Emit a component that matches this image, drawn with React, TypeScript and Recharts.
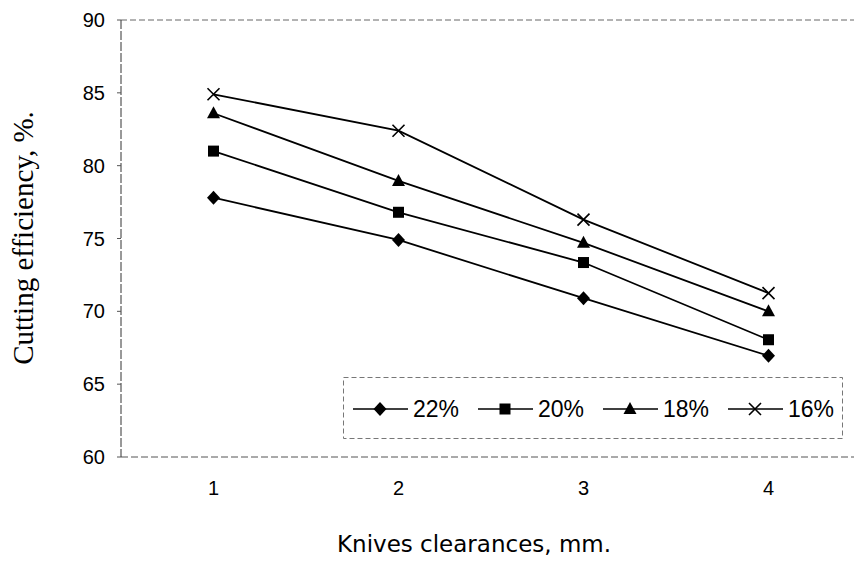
import React from "react";
import {
  Label,
  Line,
  LineChart,
  ReferenceLine,
  XAxis,
  YAxis,
} from "recharts";

const clearances = ["1", "2", "3", "4"];
const eff22 = [77.8, 74.9, 70.9, 66.95];
const eff20 = [81.0, 76.8, 73.35, 68.05];
const eff18 = [83.6, 78.95, 74.7, 70.0];
const eff16 = [84.9, 82.4, 76.3, 71.25];
const yTicks = [60, 65, 70, 75, 80, 85, 90];

type Shape = "diamond" | "square" | "triangle" | "cross";

const seriesList: { key: string; name: string; shape: Shape }[] = [
  { key: "s22", name: "22%", shape: "diamond" },
  { key: "s20", name: "20%", shape: "square" },
  { key: "s18", name: "18%", shape: "triangle" },
  { key: "s16", name: "16%", shape: "cross" },
];

const data = clearances.map((x, i) => ({
  x,
  s22: eff22[i],
  s20: eff20[i],
  s18: eff18[i],
  s16: eff16[i],
}));

const INK = "#000";
const SANS = "'Liberation Sans', Arial, sans-serif";

function Marker({ cx, cy, shape }: { cx: number; cy: number; shape: Shape }) {
  if (shape === "diamond") {
    return <path d={`M${cx},${cy - 7}L${cx + 6.5},${cy}L${cx},${cy + 7}L${cx - 6.5},${cy}Z`} fill={INK} />;
  }
  if (shape === "square") {
    return <rect x={cx - 5.5} y={cy - 5.5} width={11} height={11} fill={INK} />;
  }
  if (shape === "triangle") {
    return <path d={`M${cx},${cy - 7}L${cx + 6.5},${cy + 5}L${cx - 6.5},${cy + 5}Z`} fill={INK} />;
  }
  return (
    <path
      d={`M${cx - 6},${cy - 6}L${cx + 6},${cy + 6}M${cx + 6},${cy - 6}L${cx - 6},${cy + 6}`}
      stroke={INK}
      strokeWidth={1.6}
      fill="none"
    />
  );
}

// legend drawn by hand, laid over the plot like the original
function LegendBox() {
  return (
    <svg width={500} height={62} style={{ display: "block" }}>
      <rect
        x={0.5}
        y={0.5}
        width={499}
        height={61}
        fill="#fff"
        stroke="#777"
        strokeDasharray="5 3"
      />
      {seriesList.map((s, i) => {
        const x0 = 10 + i * 125;
        return (
          <g key={s.key}>
            <line x1={x0} y1={32} x2={x0 + 55} y2={32} stroke={INK} strokeWidth={1.6} />
            <Marker cx={x0 + 27} cy={32} shape={s.shape} />
            <text x={x0 + 60} y={40} fontFamily={SANS} fontSize={23} fill={INK}>
              {s.name}
            </text>
          </g>
        );
      })}
    </svg>
  );
}

export default function App() {
  return (
    <div
      style={{
        position: "absolute",
        left: 0,
        top: 0,
        width: 854,
        height: 568,
        overflow: "hidden",
        background: "#fff",
      }}
    >
      <LineChart
        width={880}
        height={568}
        data={data}
        margin={{ top: 20, right: 19, bottom: 0, left: 0 }}
      >
        <ReferenceLine y={90} stroke="#666" strokeDasharray="6 3" />
        <XAxis
          dataKey="x"
          height={111}
          padding={{ left: 92.5, right: 92.5 }}
          interval={0}
          tickLine={false}
          tickSize={4}
          tickMargin={20}
          axisLine={{ stroke: "#555", strokeDasharray: "7 3" }}
          tick={{ fill: INK, fontSize: 20, fontFamily: SANS }}
        >
          <Label
            content={({ viewBox }: any) => (
              <text
                x={474}
                y={(viewBox?.y ?? 457) + 95}
                textAnchor="middle"
                fontFamily="'DejaVu Sans', Verdana, sans-serif"
                fontSize={23}
                fill={INK}
              >
                Knives clearances, mm.
              </text>
            )}
          />
        </XAxis>
        <YAxis
          width={121}
          domain={[60, 90]}
          ticks={yTicks}
          interval={0}
          tickSize={4}
          tickMargin={12}
          tickLine={{ stroke: "#555" }}
          axisLine={{ stroke: "#333", strokeDasharray: "9 2" }}
          tick={{ fill: INK, fontSize: 20, fontFamily: SANS }}
        >
          <Label
            content={() => (
              <text
                x={33}
                y={238}
                transform="rotate(-90 33 238)"
                textAnchor="middle"
                fontFamily="'Liberation Serif', 'Times New Roman', serif"
                fontSize={29}
                fill={INK}
              >
                Cutting efficiency, %.
              </text>
            )}
          />
        </YAxis>
        {seriesList.map((s) => (
          <Line
            key={s.key}
            dataKey={s.key}
            name={s.name}
            type="linear"
            stroke={INK}
            strokeWidth={1.8}
            isAnimationActive={false}
            dot={(p: any) => (
              <Marker key={`${s.key}-${p.index}`} cx={p.cx} cy={p.cy} shape={s.shape} />
            )}
            activeDot={false}
          />
        ))}
      </LineChart>
      <div style={{ position: "absolute", left: 343, top: 377 }}>
        <LegendBox />
      </div>
    </div>
  );
}
